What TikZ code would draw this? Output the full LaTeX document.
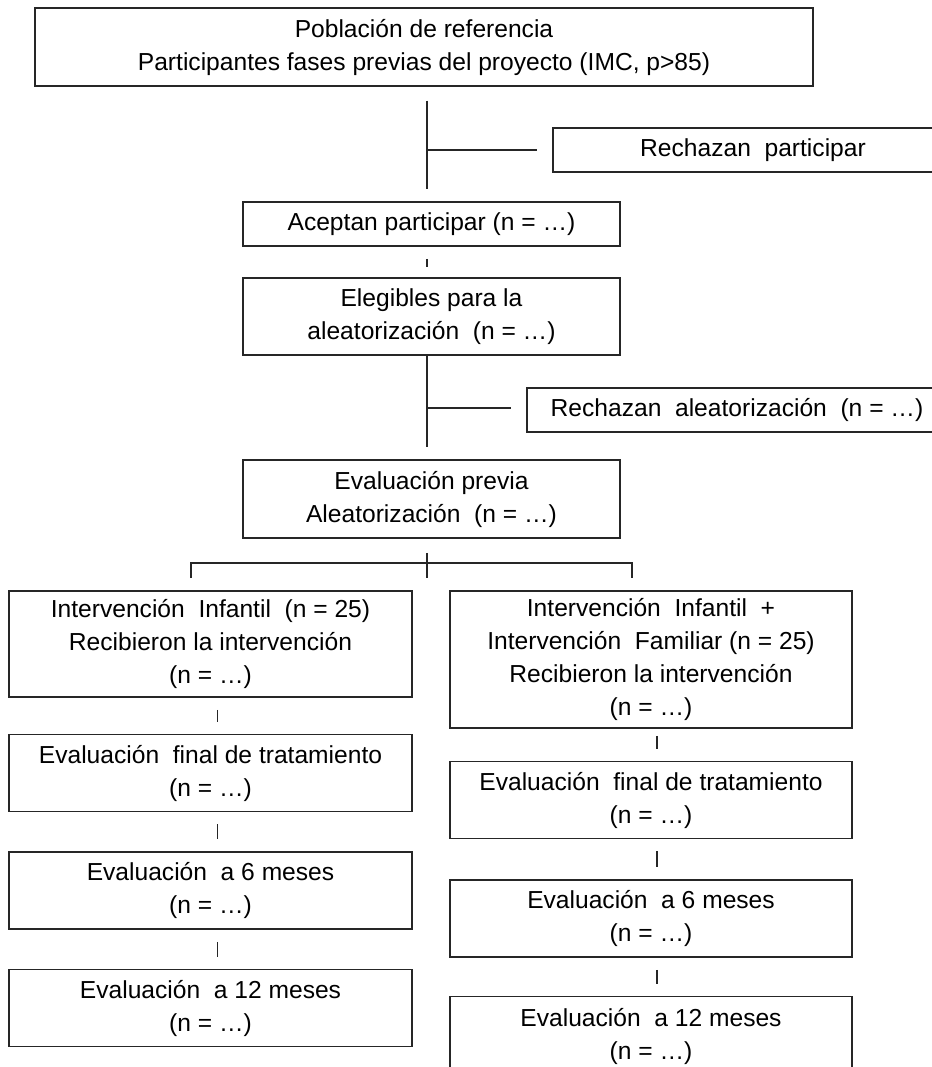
\documentclass[tikz,border=0pt]{standalone}
\usepackage{fontspec}
\setmainfont{Liberation Sans}
\usetikzlibrary{positioning}
\tikzstyle{caja}=[rectangle,draw=black!85,line width=1.5pt,align=center,inner sep=0pt,font=\fontsize{24.6}{33}\selectfont]
\tikzstyle{ancha}=[caja,minimum width=403pt,minimum height=77pt]
\tikzstyle{linea}=[line width=1.5pt,black!85]
\tikzstyle{corto}=[linea,shorten <=12pt,shorten >=12pt]

\begin{document}
\begin{tikzpicture}[x=1pt,y=1pt,node distance=38pt]
\useasboundingbox (0,0) rectangle (931,-1067);
\coordinate (eje) at (427,0);
% tronco central
\node[caja,minimum width=778pt,minimum height=78pt] (Pob) at (424,-47) {Población de referencia\\Participantes fases previas del proyecto (IMC, p>85)};
\node[caja,minimum width=400pt,minimum height=44pt] (RechP) at (753,-150) {Rechazan\ \ participar};
\node[caja,minimum width=377pt,minimum height=44pt] (Acep) at (431.5,-224) {Aceptan participar (n = …)};
\node[caja,minimum width=377pt,minimum height=77pt] (Eleg) at (431.5,-316.5) {Elegibles para la\\aleatorización\ \ (n = …)};
\node[caja,minimum width=420pt,minimum height=44pt] (RechA) at (737,-410) {Rechazan\ \ aleatorización\ \ (n = …)};
\node[caja,minimum width=377pt,minimum height=78pt] (Prev) at (431.5,-499) {Evaluación previa\\Aleatorización\ \ (n = …)};
% columna izquierda
\node[ancha,minimum height=106pt] (Inf) at (210.5,-644) {Intervención\ \ Infantil\ \ (n = 25)\\Recibieron la intervención\\(n = …)};
\node[ancha, below=36pt of Inf] (FinI) {Evaluación\ \ final de tratamiento\\(n = …)};
\node[ancha, below=39pt of FinI] (SeisI) {Evaluación\ \ a 6 meses\\(n = …)};
\node[ancha, below=39pt of SeisI] (DoceI) {Evaluación\ \ a 12 meses\\(n = …)};
% columna derecha
\node[ancha,minimum width=402pt,minimum height=137pt] (InfFam) at (651,-659.5) {Intervención\ \ Infantil\ \ +\\Intervención\ \ Familiar (n = 25)\\Recibieron la intervención\\(n = …)};
\node[ancha,minimum width=402pt, below=32pt of InfFam] (FinF) {Evaluación\ \ final de tratamiento\\(n = …)};
\node[ancha,minimum width=402pt, below=40pt of FinF] (SeisF) {Evaluación\ \ a 6 meses\\(n = …)};
\node[ancha,minimum width=402pt,minimum height=80pt, below=38pt of SeisF] (DoceF) {Evaluación\ \ a 12 meses\\(n = …)};
% conectores
\draw[linea,shorten <=14pt,shorten >=12pt] (Pob.south -| eje) -- (Acep.north -| eje);
\draw[linea,shorten >=15pt] (RechP.west -| eje) -- (RechP.west);
\draw[linea,shorten <=12pt,shorten >=10pt] (Acep.south -| eje) -- (Eleg.north -| eje);
\draw[linea,shorten >=12pt] (Eleg.south -| eje) -- (Prev.north -| eje);
\draw[linea,shorten >=15pt] ([yshift=2pt]RechA.west -| eje) -- ([yshift=2pt]RechA.west);
\coordinate (bifC) at (427,-578);
\coordinate (bif) at (427,-563);
\coordinate (bifI) at (191,-578);
\coordinate (bifD) at (632,-578);
\draw[linea,shorten <=14pt] (Prev.south -| eje) -- (bifC);
\draw[linea] (bifI) |- (bif) -| (bifD);
\draw[corto] ([xshift=7pt]Inf.south) -- ([xshift=7pt]FinI.north);
\draw[corto] ([xshift=7pt]FinI.south) -- ([xshift=7pt]SeisI.north);
\draw[corto] ([xshift=7pt]SeisI.south) -- ([xshift=7pt]DoceI.north);
\draw[corto,shorten <=7pt] ([xshift=6pt]InfFam.south) -- ([xshift=6pt]FinF.north);
\draw[corto] ([xshift=6pt]FinF.south) -- ([xshift=6pt]SeisF.north);
\draw[corto] ([xshift=6pt]SeisF.south) -- ([xshift=6pt]DoceF.north);
\end{tikzpicture}
\end{document}
